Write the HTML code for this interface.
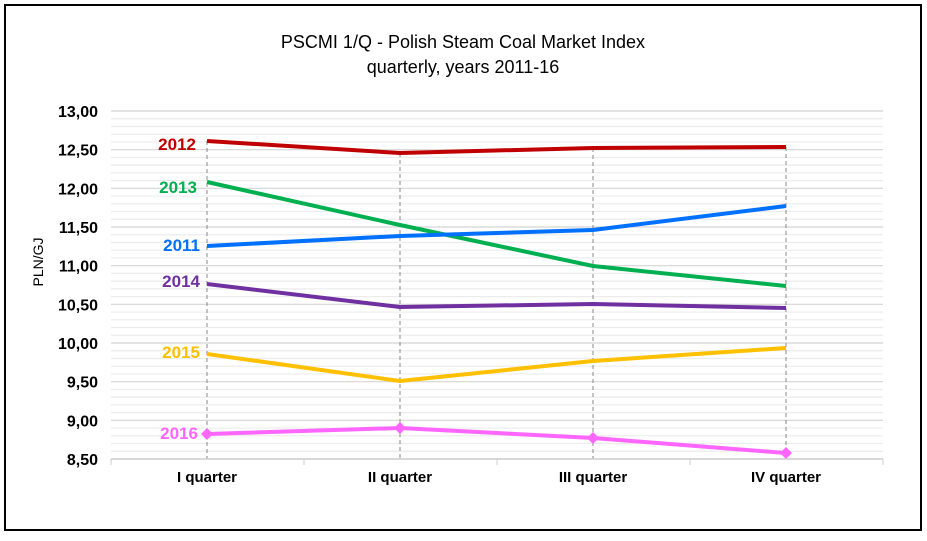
<!DOCTYPE html>
<html><head><style>body{margin:0;background:#fff}</style></head><body>
<svg width="927" height="536" xmlns="http://www.w3.org/2000/svg" font-family="Liberation Sans, sans-serif">
<rect x="0" y="0" width="927" height="536" fill="#fff"/>
<rect x="5" y="5" width="916" height="525" fill="none" stroke="#000" stroke-width="2"/>
<text x="463" y="48" font-size="18" text-anchor="middle">PSCMI 1/Q - Polish Steam Coal Market Index</text>
<text x="463" y="73" font-size="18" text-anchor="middle">quarterly,  years 2011-16</text>
<g id="grid"></g>
<g id="ylab" font-size="16" font-weight="bold" text-anchor="end"></g>
<text transform="translate(43,262) rotate(-90)" font-size="14" text-anchor="middle">PLN/GJ</text>
<g stroke="#888" stroke-dasharray="4,3" stroke-width="1">
<line x1="207" y1="141" x2="207" y2="459"/><line x1="400" y1="153" x2="400" y2="459"/><line x1="593" y1="148" x2="593" y2="459"/><line x1="786" y1="147" x2="786" y2="459"/>
</g>
<line x1="111" y1="459" x2="883" y2="459" stroke="#ccc" stroke-width="1.5"/>
<g stroke="#ccc"><line x1="111" y1="459" x2="111" y2="465"/><line x1="304" y1="459" x2="304" y2="465"/><line x1="497" y1="459" x2="497" y2="465"/><line x1="690" y1="459" x2="690" y2="465"/><line x1="883" y1="459" x2="883" y2="465"/></g>
<g font-size="15" font-weight="bold" text-anchor="middle">
<text x="207" y="482">I quarter</text><text x="400" y="482">II quarter</text><text x="593" y="482">III quarter</text><text x="786" y="482">IV quarter</text></g>
<g fill="none" stroke-width="4" stroke-linejoin="round">
<polyline stroke="#C00000" points="207,141 400,153 593,148 786,147"/>
<polyline stroke="#00B050" points="207,182 400,225 593,266 786,286"/>
<polyline stroke="#0070FF" points="207,246 400,236 593,230 786,206"/>
<polyline stroke="#7030A0" points="207,284 400,307 593,304 786,308"/>
<polyline stroke="#FFC000" points="207,354 400,381 593,361 786,348"/>
<polyline stroke="#FF66FF" points="207,434 400,428 593,438 786,453"/>
</g>
<g fill="#FF66FF"><path d="M207,428 l6,6 -6,6 -6,-6z"/><path d="M400,422 l6,6 -6,6 -6,-6z"/><path d="M593,432 l6,6 -6,6 -6,-6z"/><path d="M786,447 l6,6 -6,6 -6,-6z"/></g>
<g font-size="17" font-weight="bold" text-anchor="end">
<text x="196" y="150" fill="#C00000">2012</text>
<text x="197" y="193" fill="#00B050">2013</text>
<text x="200" y="251" fill="#0070FF">2011</text>
<text x="200" y="287" fill="#7030A0">2014</text>
<text x="200" y="358" fill="#FFC000">2015</text>
<text x="198" y="439" fill="#FF66FF">2016</text>
</g>
<script>
var g=document.getElementById('grid'),yl=document.getElementById('ylab'),ns='http://www.w3.org/2000/svg';
for(var i=0;i<45;i++){var y=111+i*348/45;var l=document.createElementNS(ns,'line');l.setAttribute('x1',111);l.setAttribute('x2',883);l.setAttribute('y1',y);l.setAttribute('y2',y);l.setAttribute('stroke',i%5==0?'#d4d4d4':'#ececec');l.setAttribute('stroke-width',1.2);g.appendChild(l);}
for(var k=0;k<10;k++){var v=13-k*0.5;var t=document.createElementNS(ns,'text');t.setAttribute('x',98);t.setAttribute('y',111+k*38.667+6);t.textContent=v.toFixed(2).replace('.',',');yl.appendChild(t);}
</script>
</svg>
</body></html>
